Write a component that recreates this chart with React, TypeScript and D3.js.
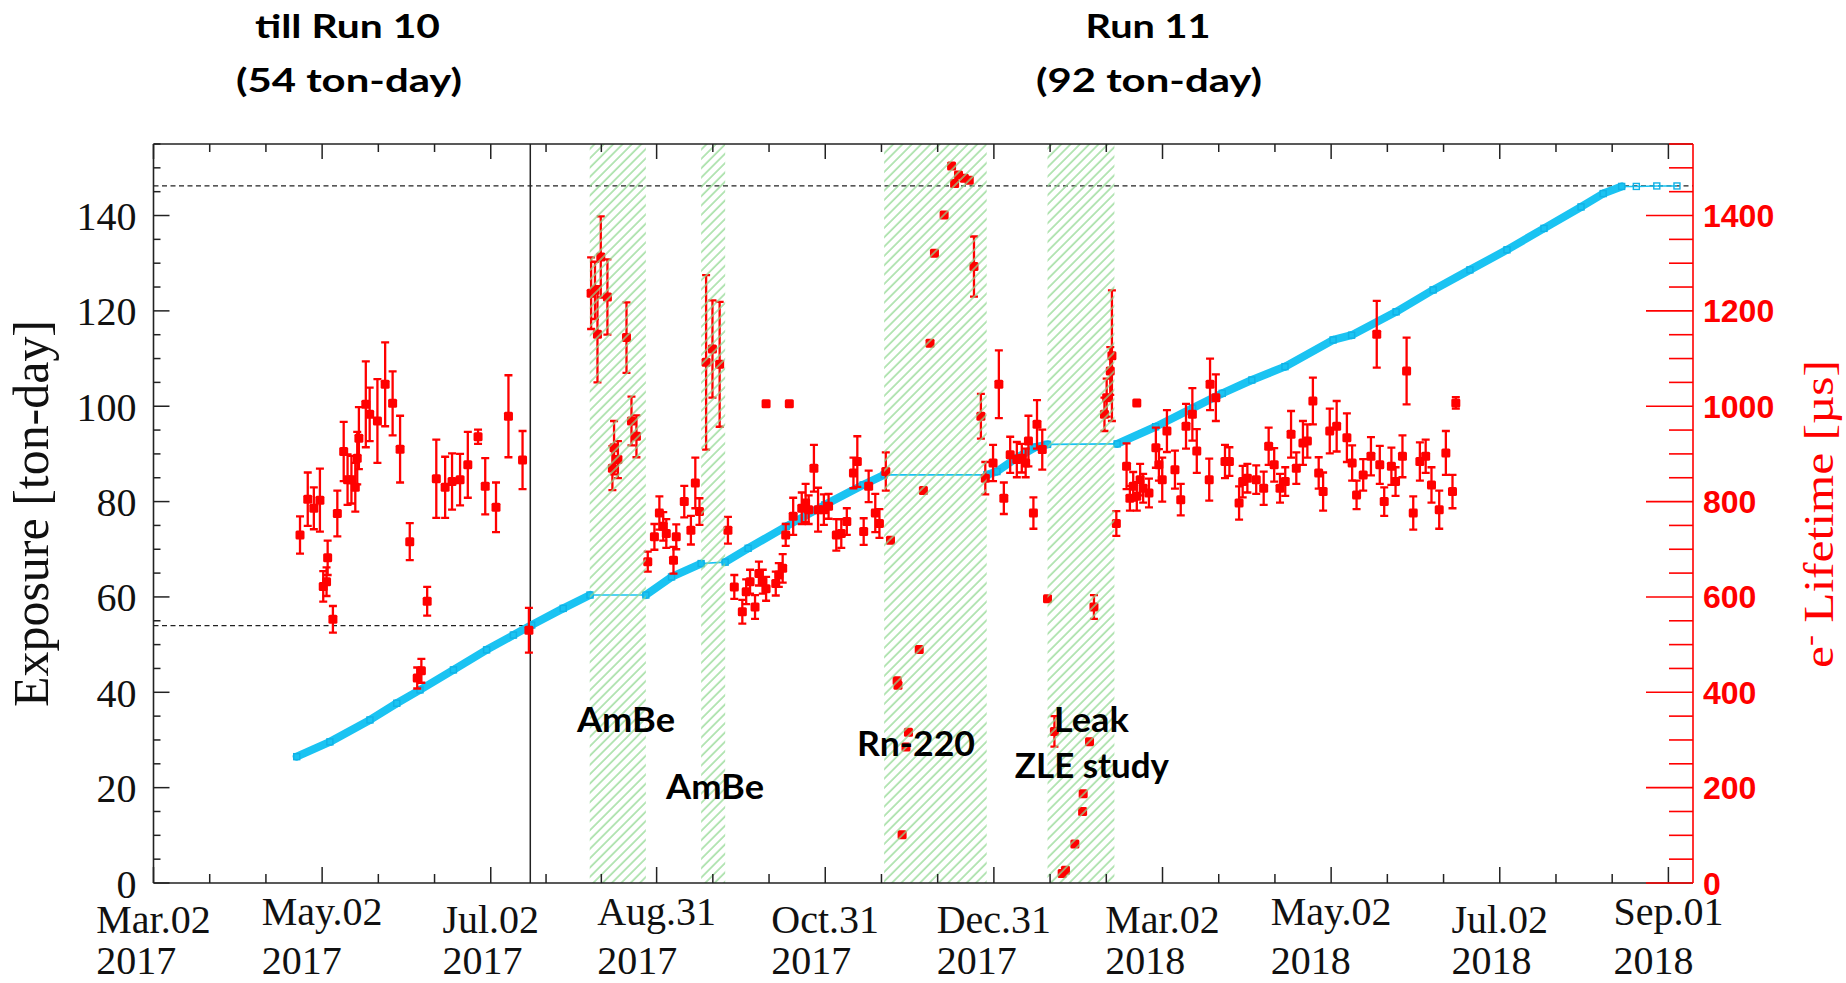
import * as d3 from "d3";
import { useCallback } from "react";

// x values are days counted from 2017-01-01 (UTC)
const ORIGIN = Date.UTC(2017, 0, 1);
const DAY_MS = 86400000;
const xStartDay = 60; // Mar.02 2017
const xEndDay = 616.9;

const tickDates = [
  "2017-03-02", "2017-05-02", "2017-07-02", "2017-08-31", "2017-10-31",
  "2017-12-31", "2018-03-02", "2018-05-02", "2018-07-02", "2018-09-01",
];
const tickMonth = ["Mar.02", "May.02", "Jul.02", "Aug.31", "Oct.31", "Dec.31", "Mar.02", "May.02", "Jul.02", "Sep.01"];
const tickYear = ["2017", "2017", "2017", "2017", "2017", "2017", "2018", "2018", "2018", "2018"];

const exposureTicks = [0, 20, 40, 60, 80, 100, 120, 140];
const lifetimeTicks = [0, 200, 400, 600, 800, 1000, 1200, 1400];

// cumulative exposure [ton-day]
const exposureDay = [
  111.8, 123.8, 138.3, 148.0, 156.4, 168.5, 180.5, 190.2, 196.8, 208.2,
  217.9, 238.1, 247.4, 258.1, 266.8, 275.1, 288.9, 302.8, 316.7, 324.3,
  361.4, 365.1, 372.0, 379.0, 383.4, 408.6, 422.5, 435.9, 446.6, 457.3,
  469.3, 486.7, 493.4, 509.5, 522.9, 536.2, 549.6, 563.0, 576.4, 584.4,
  591.1, 596.4, 603.8, 611.1,
];
const exposureValue = [
  26.5, 29.6, 34.2, 37.7, 40.5, 44.7, 48.9, 52.0, 54.1, 57.6,
  60.4, 60.4, 64.2, 67.0, 67.3, 70.2, 74.8, 79.3, 83.5, 85.6,
  85.6, 86.3, 89.1, 91.4, 92.0, 92.1, 95.7, 99.6, 102.7, 105.5,
  108.3, 113.9, 114.9, 119.8, 124.4, 128.6, 132.8, 137.3, 141.8, 144.6,
  146.1, 146.1, 146.2, 146.2,
];

// electron lifetime [day, us, error]
const lifetimeRun10: [number, number, number][] = [
  [113.0, 730, 39], [115.8, 805, 56], [118.0, 786, 44], [120.2, 803, 66], [121.4, 622, 32],
  [122.6, 632, 30], [123.0, 682, 36], [124.9, 553, 28], [126.5, 775, 48], [128.8, 905, 62],
  [130.2, 846, 53], [131.6, 846, 50], [133.0, 830, 51], [133.7, 891, 55], [134.3, 933, 65],
  [136.8, 1004, 90], [138.2, 983, 56], [141.0, 969, 88], [143.8, 1046, 88], [146.5, 1006, 67],
  [149.2, 910, 70], [152.7, 716, 39], [155.4, 430, 22], [156.9, 445, 25], [159.0, 591, 30],
  [162.3, 848, 82], [165.5, 830, 64], [168.0, 842, 59], [170.9, 846, 54], [173.7, 877, 69],
  [177.4, 936, 15], [180.0, 832, 59], [183.9, 788, 52], [188.4, 979, 86], [193.5, 887, 61],
  [195.8, 530, 47],
];
const lifetimeAutumn: [number, number, number][] = [
  [218.3, 1237, 75], [219.7, 1243, 60], [220.6, 1151, 101], [221.8, 1313, 85], [224.2, 1229, 79],
  [226.0, 870, 46], [226.6, 913, 56], [228.0, 888, 39], [231.1, 1144, 74], [232.9, 969, 51],
  [234.7, 937, 44], [238.8, 674, 21], [241.2, 726, 27], [243.0, 776, 35], [244.4, 748, 30],
  [245.5, 733, 30], [248.1, 677, 28], [249.1, 726, 26], [252.0, 800, 33], [254.4, 740, 30],
  [256.0, 839, 53], [257.5, 779, 28], [259.9, 1092, 183], [262.2, 1120, 102], [264.8, 1088, 131],
  [267.8, 740, 28], [270.1, 621, 25], [273.0, 569, 25], [274.4, 611, 26], [275.8, 632, 25],
  [277.6, 579, 25], [279.0, 649, 25], [280.4, 632, 25], [281.6, 617, 25], [281.6, 1005, 0],
  [285.1, 628, 25], [286.2, 646, 25], [287.6, 660, 30], [288.7, 730, 23], [290.0, 1005, 0],
  [291.4, 769, 39], [294.5, 786, 33], [295.9, 797, 40], [297.0, 783, 30], [298.9, 870, 49],
  [300.4, 783, 46], [302.5, 783, 32], [304.2, 790, 26], [307.0, 730, 33], [308.8, 733, 30],
  [310.8, 758, 28], [313.2, 860, 32], [314.6, 884, 53], [316.9, 737, 28], [318.7, 832, 33],
  [321.1, 776, 40], [322.6, 754, 30],
];
const lifetimeWinter: [number, number, number][] = [
  [324.9, 863, 40], [326.6, 719, 0], [329.0, 424, 0], [329.3, 415, 0], [330.8, 101, 0],
  [332.2, 285, 0], [333.1, 316, 0], [337.0, 490, 0], [338.5, 823, 0], [340.9, 1132, 0],
  [342.5, 1321, 0], [346.0, 1401, 0], [348.7, 1504, 0], [349.8, 1467, 0], [351.2, 1485, 0],
  [353.3, 1478, 0], [355.1, 1474, 0], [356.8, 1293, 63], [359.3, 979, 47], [360.9, 849, 34],
  [363.7, 881, 38], [365.8, 1046, 71], [367.6, 807, 33], [369.9, 898, 38], [372.3, 888, 37],
  [374.1, 891, 30], [375.5, 881, 30], [376.5, 927, 53], [378.3, 776, 33], [379.6, 962, 51],
  [381.5, 909, 42], [383.4, 596, 0], [385.9, 318, 32], [388.7, 20, 0], [389.9, 27, 0],
  [393.3, 82, 0], [396.1, 150, 0], [396.3, 187, 0], [398.6, 296, 0], [400.2, 579, 25],
  [404.0, 983, 35], [404.8, 1018, 40], [406.1, 1074, 50], [406.7, 1106, 137], [408.3, 754, 26],
];
const lifetime2018: [number, number, number][] = [
  [412.0, 874, 48], [413.2, 807, 26], [414.4, 832, 30], [415.7, 811, 30], [415.7, 1007, 0],
  [416.9, 846, 33], [418.0, 828, 30], [420.1, 818, 30], [422.6, 913, 42], [423.7, 877, 33],
  [424.9, 846, 46], [426.6, 948, 44], [429.5, 867, 40], [431.6, 804, 33], [433.5, 958, 47],
  [435.8, 983, 55], [437.4, 906, 46], [441.9, 846, 44], [442.2, 1046, 54], [444.3, 1018, 49],
  [447.6, 884, 35], [449.2, 884, 30], [452.7, 797, 35], [454.0, 842, 33], [455.7, 849, 30],
  [458.9, 846, 30], [461.6, 828, 35], [463.4, 916, 39], [465.4, 877, 35], [467.5, 828, 30],
  [469.4, 842, 30], [471.5, 941, 49], [473.4, 870, 33], [475.8, 923, 46], [477.4, 927, 35],
  [479.4, 1011, 49], [481.5, 860, 33], [483.1, 821, 40], [485.5, 948, 47], [488.0, 958, 53],
  [491.7, 934, 51], [493.6, 881, 37], [495.2, 814, 30], [497.6, 856, 33], [500.4, 895, 40],
  [502.5, 1151, 70], [503.6, 877, 40], [505.2, 800, 30], [507.8, 874, 39], [509.3, 842, 30],
  [511.8, 895, 44], [513.3, 1074, 70], [515.7, 776, 35], [518.1, 884, 40], [520.2, 895, 35],
  [522.3, 835, 37], [525.1, 783, 40], [527.5, 902, 46], [529.9, 821, 35], [531.1, 1007, 12],
];

// calibration periods (hatched)
const calibStart = [217.8, 258.1, 324.3, 383.4];
const calibEnd = [238.1, 266.8, 361.4, 407.6];

const run10EndDay = 196.3;
const run10Exposure = 54;
const totalExposure = 146.2;

const noteText = ["AmBe", "AmBe", "Rn-220", "Leak", "ZLE study"];
const noteDay = [213.2, 245.4, 314.5, 385.7, 371.6];
const noteValue = [31.7, 17.6, 26.6, 31.7, 22.0];
const noteWidth = [98, 98, 118, 75, 154];

const CYAN = "#1ac3f2";
const RED = "#ff0000";
const SERIF = "'Liberation Serif', 'Times New Roman', serif";
const CALIBRI = "Lato, 'Open Sans', sans-serif";

export default function App() {
  const renderChart = useCallback((node: HTMLDivElement | null) => {
    if (!node) return;
    const W = 1846;
    const H = 983;
    const plot = { left: 153.5, right: 1693, top: 144, bottom: 883 };

    const svg = d3
      .select(node)
      .append("svg")
      .attr("width", W)
      .attr("height", H)
      .attr("viewBox", `0 0 ${W} ${H}`)
      .style("display", "block")
      .style("background", "#fff");

    const toDate = (d: number) => new Date(ORIGIN + d * DAY_MS);
    const x = d3
      .scaleUtc()
      .domain([toDate(xStartDay), toDate(xEndDay)])
      .range([plot.left, plot.right]);
    const xd = (d: number) => x(toDate(d));
    const y = d3.scaleLinear().domain([0, 155]).range([plot.bottom, plot.top]);
    const yR = d3.scaleLinear().domain([0, 1550]).range([plot.bottom, plot.top]);

    // hatch for calibration bands
    svg
      .append("defs")
      .append("pattern")
      .attr("id", "calib-hatch")
      .attr("patternUnits", "userSpaceOnUse")
      .attr("width", 6.6)
      .attr("height", 20)
      .attr("patternTransform", "rotate(45)")
      .append("line")
      .attr("x1", 1)
      .attr("x2", 1)
      .attr("y1", 0)
      .attr("y2", 20)
      .attr("stroke", "#90d890")
      .attr("stroke-width", 1.3);

    // reference dashed lines
    svg
      .append("line")
      .attr("x1", plot.left)
      .attr("x2", plot.right)
      .attr("y1", y(totalExposure))
      .attr("y2", y(totalExposure))
      .attr("stroke", "#222")
      .attr("stroke-width", 1.3)
      .attr("stroke-dasharray", "5 3.5");
    svg
      .append("line")
      .attr("x1", plot.left)
      .attr("x2", xd(run10EndDay))
      .attr("y1", y(run10Exposure))
      .attr("y2", y(run10Exposure))
      .attr("stroke", "#222")
      .attr("stroke-width", 1.3)
      .attr("stroke-dasharray", "5 3.5");

    // end of Run 10
    svg
      .append("line")
      .attr("x1", xd(run10EndDay))
      .attr("x2", xd(run10EndDay))
      .attr("y1", plot.top)
      .attr("y2", plot.bottom)
      .attr("stroke", "#222")
      .attr("stroke-width", 1.5);

    // exposure curve
    type ExpPoint = { day: number; value: number };
    const exposure: ExpPoint[] = exposureDay.map((d, i) => ({ day: d, value: exposureValue[i] }));
    const line = d3
      .line<ExpPoint>()
      .x((d) => xd(d.day))
      .y((d) => y(d.value));
    svg
      .append("path")
      .datum(exposure)
      .attr("fill", "none")
      .attr("stroke", CYAN)
      .attr("stroke-width", 1.6)
      .attr("d", line);

    // data-taking stretches are densely packed markers -> thick band
    const running = d3.pairs(exposure).filter(([a, b]) => (b.value - a.value) / (b.day - a.day) > 0.1);
    svg
      .selectAll("line.run")
      .data(running)
      .enter()
      .append("line")
      .attr("class", "run")
      .attr("x1", (d) => xd(d[0].day))
      .attr("y1", (d) => y(d[0].value))
      .attr("x2", (d) => xd(d[1].day))
      .attr("y2", (d) => y(d[1].value))
      .attr("stroke", CYAN)
      .attr("stroke-width", 8)
      .attr("stroke-linecap", "round");

    svg
      .selectAll("rect.exp")
      .data(exposure)
      .enter()
      .append("rect")
      .attr("class", "exp")
      .attr("x", (d) => xd(d.day) - 3)
      .attr("y", (d) => y(d.value) - 3)
      .attr("width", 6)
      .attr("height", 6)
      .attr("fill", "none")
      .attr("stroke", "#10b2e6")
      .attr("stroke-width", 1.4);

    // electron lifetime with error bars
    const lifetime = [...lifetimeRun10, ...lifetimeAutumn, ...lifetimeWinter, ...lifetime2018].map(
      ([day, value, err]) => ({ day, value, err })
    );
    const red = svg.append("g");
    red
      .selectAll("path.err")
      .data(lifetime.filter((d) => d.err > 0))
      .enter()
      .append("path")
      .attr("class", "err")
      .attr("fill", "none")
      .attr("stroke", RED)
      .attr("stroke-width", 2.3)
      .attr("d", (d) => {
        const cx = xd(d.day);
        const t = yR(d.value + d.err);
        const b = yR(d.value - d.err);
        return `M${cx},${t}V${b}M${cx - 4},${t}H${cx + 4}M${cx - 4},${b}H${cx + 4}`;
      });
    red
      .selectAll("rect.pt")
      .data(lifetime)
      .enter()
      .append("rect")
      .attr("class", "pt")
      .attr("x", (d) => xd(d.day) - 4.5)
      .attr("y", (d) => yR(d.value) - 4.5)
      .attr("width", 9)
      .attr("height", 9)
      .attr("rx", 1.5)
      .attr("fill", RED);

    // calibration bands drawn over the data
    svg
      .selectAll("rect.calib")
      .data(calibStart.map((s, i) => [s, calibEnd[i]]))
      .enter()
      .append("rect")
      .attr("class", "calib")
      .attr("x", (d) => xd(d[0]))
      .attr("y", plot.top)
      .attr("width", (d) => xd(d[1]) - xd(d[0]))
      .attr("height", plot.bottom - plot.top)
      .attr("fill", "url(#calib-hatch)");

    // frame
    const frame = svg.append("g").attr("stroke", "#222").attr("stroke-width", 1.6);
    frame.append("line").attr("x1", plot.left).attr("x2", plot.right).attr("y1", plot.top).attr("y2", plot.top);
    frame.append("line").attr("x1", plot.left).attr("x2", plot.right).attr("y1", plot.bottom).attr("y2", plot.bottom);
    frame.append("line").attr("x1", plot.left).attr("x2", plot.left).attr("y1", plot.top).attr("y2", plot.bottom);

    // time axis ticks (bottom + top), 3 subdivisions
    const majorX = tickDates.map((s) => x(new Date(s + "T00:00:00Z")));
    const minorX: number[] = [];
    d3.pairs(majorX).forEach(([a, b]) => {
      minorX.push(a + (b - a) / 3, a + (2 * (b - a)) / 3);
    });
    const ticks = svg.append("g").attr("stroke", "#222").attr("stroke-width", 1.5);
    majorX.forEach((px) => {
      ticks.append("line").attr("x1", px).attr("x2", px).attr("y1", plot.bottom).attr("y2", plot.bottom - 16);
      ticks.append("line").attr("x1", px).attr("x2", px).attr("y1", plot.top).attr("y2", plot.top + 15);
    });
    minorX.forEach((px) => {
      ticks.append("line").attr("x1", px).attr("x2", px).attr("y1", plot.bottom).attr("y2", plot.bottom - 9);
      ticks.append("line").attr("x1", px).attr("x2", px).attr("y1", plot.top).attr("y2", plot.top + 8);
    });

    // left axis ticks
    d3.range(0, 156, 5).forEach((v) => {
      const major = v % 20 === 0;
      ticks
        .append("line")
        .attr("x1", plot.left)
        .attr("x2", plot.left + (major ? 16 : 7))
        .attr("y1", y(v))
        .attr("y2", y(v));
    });

    // right axis (red)
    const right = svg.append("g").attr("stroke", RED).attr("stroke-width", 1.6);
    d3.range(0, 1551, 50).forEach((v) => {
      const major = v % 200 === 0;
      right
        .append("line")
        .attr("x1", plot.right)
        .attr("x2", plot.right - (major ? 47 : 24))
        .attr("y1", yR(v))
        .attr("y2", yR(v));
    });
    right.append("line").attr("x1", plot.right).attr("x2", plot.right).attr("y1", plot.top).attr("y2", plot.bottom);

    // tick labels
    svg
      .selectAll("text.ylab")
      .data(exposureTicks)
      .enter()
      .append("text")
      .attr("class", "ylab")
      .attr("x", plot.left - 17)
      .attr("y", (d) => y(d) + 14.5)
      .attr("text-anchor", "end")
      .attr("font-family", SERIF)
      .attr("font-size", 40)
      .attr("fill", "#111")
      .text((d) => d);

    svg
      .selectAll("text.rlab")
      .data(lifetimeTicks)
      .enter()
      .append("text")
      .attr("class", "rlab")
      .attr("x", plot.right + 10)
      .attr("y", (d) => yR(d) + 11.5)
      .attr("font-family", "'Liberation Sans', Arial, sans-serif")
      .attr("font-weight", "bold")
      .attr("font-size", 32)
      .attr("fill", RED)
      .text((d) => d);

    tickMonth.forEach((label, i) => {
      const px = majorX[i];
      const lift = /[gyp]/.test(label) ? -8 : 0;
      const first = svg
        .append("text")
        .attr("x", px)
        .attr("y", 933 + lift)
        .attr("text-anchor", "middle")
        .attr("font-family", SERIF)
        .attr("font-size", 40)
        .attr("fill", "#111")
        .text(label);
      const w = (first.node() as SVGTextElement).getComputedTextLength();
      svg
        .append("text")
        .attr("x", px - w / 2)
        .attr("y", 974)
        .attr("font-family", SERIF)
        .attr("font-size", 40)
        .attr("fill", "#111")
        .text(tickYear[i]);
    });

    // axis titles
    svg
      .append("text")
      .attr("transform", "translate(47.5,513.5) rotate(-90)")
      .attr("text-anchor", "middle")
      .attr("font-family", SERIF)
      .attr("font-size", 50)
      .attr("textLength", 387)
      .attr("lengthAdjust", "spacingAndGlyphs")
      .attr("fill", "#111")
      .text("Exposure [ton-day]");

    const rTitle = svg
      .append("text")
      .attr("transform", "translate(1833,514) rotate(-90)")
      .attr("text-anchor", "middle")
      .attr("font-family", SERIF)
      .attr("font-size", 42)
      .attr("textLength", 308)
      .attr("lengthAdjust", "spacingAndGlyphs")
      .attr("fill", RED);
    rTitle.append("tspan").text("e");
    rTitle.append("tspan").attr("dy", -15).attr("font-size", 28).text("-");
    rTitle.append("tspan").attr("dy", 15).text(" Lifetime [\u00b5s]");

    // run headers
    const headers = [
      { text: "till Run 10", cx: 347.5, by: 38, w: 185 },
      { text: "(54 ton-day)", cx: 349, by: 92, w: 226 },
      { text: "Run 11", cx: 1148, by: 38, w: 125 },
      { text: "(92 ton-day)", cx: 1149, by: 92, w: 226 },
    ];
    headers.forEach((h) => {
      svg
        .append("text")
        .attr("x", h.cx)
        .attr("y", h.by)
        .attr("text-anchor", "middle")
        .attr("font-family", CALIBRI)
        .attr("font-weight", "bold")
        .attr("font-size", 33)
        .attr("textLength", h.w)
        .attr("lengthAdjust", "spacingAndGlyphs")
        .attr("fill", "#000")
        .text(h.text);
    });

    // calibration notes
    noteText.forEach((t, i) => {
      svg
        .append("text")
        .attr("x", xd(noteDay[i]))
        .attr("y", y(noteValue[i]))
        .attr("font-family", CALIBRI)
        .attr("font-weight", "bold")
        .attr("font-size", 34)
        .attr("textLength", noteWidth[i])
        .attr("lengthAdjust", "spacingAndGlyphs")
        .attr("fill", "#000")
        .text(t);
    });

    return () => {
      svg.remove();
    };
  }, []);

  return <div ref={renderChart} style={{ position: "absolute", left: 0, top: 0 }}></div>;
}
